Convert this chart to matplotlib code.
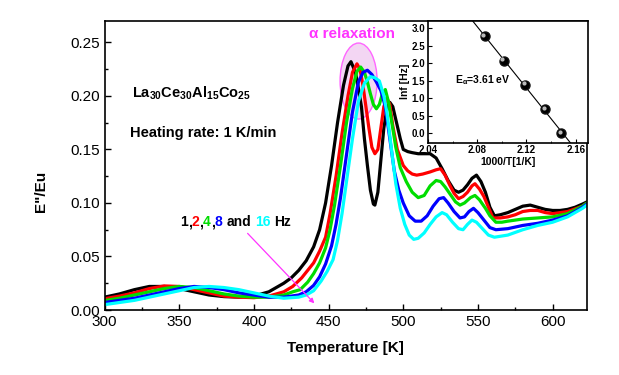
import numpy as np
import matplotlib
matplotlib.use("Agg")
import matplotlib.pyplot as plt
from matplotlib.patches import Ellipse
from matplotlib.ticker import MultipleLocator, FormatStrFormatter
from matplotlib.transforms import offset_copy

plt.rcParams['font.family'] = ['Liberation Sans', 'DejaVu Sans']
plt.rcParams['mathtext.fontset'] = 'custom'
plt.rcParams['mathtext.rm'] = 'Liberation Sans'
plt.rcParams['mathtext.bf'] = 'Liberation Sans:bold'
plt.rcParams['mathtext.it'] = 'Liberation Sans:bold'

# ---------------- data ----------------
T_1hz = [300, 310, 320, 330, 340, 350, 360, 370, 380, 390, 400, 410, 420, 425, 430, 435, 440, 444, 448,
         452, 456, 460, 463, 465, 468, 470, 472, 474, 476, 478, 480, 481, 483, 485, 487, 489, 491, 493,
         496, 498, 500, 503, 506, 510, 514, 518, 522, 526, 530, 534, 537, 540, 543, 546, 549, 552, 555,
         558, 561, 565, 570, 575, 580, 585, 590, 595, 600, 605, 610, 615, 620, 623]
E_1hz = [0.012, 0.015, 0.019, 0.022, 0.022, 0.020, 0.017, 0.014, 0.0125, 0.012, 0.013, 0.017, 0.025,
         0.030, 0.037, 0.046, 0.059, 0.075, 0.100, 0.135, 0.175, 0.210, 0.228, 0.232, 0.222, 0.207,
         0.190, 0.160, 0.135, 0.112, 0.099, 0.098, 0.110, 0.140, 0.170, 0.188, 0.194, 0.190, 0.172,
         0.160, 0.150, 0.148, 0.147, 0.146, 0.146, 0.146, 0.142, 0.132, 0.121, 0.112, 0.110, 0.112,
         0.117, 0.123, 0.126, 0.120, 0.110, 0.096, 0.088, 0.089, 0.091, 0.094, 0.097, 0.098, 0.096,
         0.094, 0.093, 0.093, 0.094, 0.096, 0.099, 0.101]

T_2hz = [300, 310, 320, 330, 340, 350, 360, 370, 380, 390, 400, 410, 420, 426, 432, 436, 440, 444, 448,
         451, 455, 459, 463, 466, 469, 471, 473, 475, 477, 479, 481, 483, 485, 487, 489, 491, 493, 496,
         500, 503, 506, 509, 513, 518, 522, 525, 528, 531, 534, 537, 540, 543, 546, 548, 551, 554, 557,
         560, 565, 570, 575, 580, 585, 590, 595, 600, 610, 620, 623]
E_2hz = [0.0105, 0.013, 0.016, 0.020, 0.0225, 0.022, 0.019, 0.016, 0.013, 0.012, 0.0115, 0.013, 0.017,
         0.022, 0.030, 0.037, 0.044, 0.055, 0.068, 0.090, 0.125, 0.165, 0.200, 0.222, 0.230, 0.225,
         0.210, 0.190, 0.170, 0.152, 0.146, 0.150, 0.170, 0.190, 0.198, 0.192, 0.172, 0.150, 0.135,
         0.130, 0.127, 0.126, 0.127, 0.129, 0.131, 0.132, 0.126, 0.117, 0.109, 0.104, 0.106, 0.110,
         0.116, 0.118, 0.113, 0.106, 0.096, 0.086, 0.086, 0.087, 0.089, 0.092, 0.093, 0.093, 0.091,
         0.090, 0.092, 0.097, 0.100]

T_4hz = [300, 310, 320, 330, 340, 350, 360, 370, 380, 390, 400, 410, 420, 426, 431, 436, 440, 444, 448,
         451, 454, 458, 462, 466, 469, 471.5, 474, 476, 478, 480, 482, 484, 486, 488, 490, 492, 495,
         498, 502, 506, 510, 514, 518, 522, 525, 528, 531, 535, 538, 541, 545, 548, 551, 555, 558, 562,
         566, 570, 580, 590, 600, 610, 620, 623]
E_4hz = [0.0088, 0.011, 0.014, 0.017, 0.020, 0.022, 0.021, 0.018, 0.015, 0.013, 0.012, 0.012, 0.014,
         0.017, 0.019, 0.026, 0.034, 0.044, 0.058, 0.075, 0.098, 0.135, 0.175, 0.207, 0.223, 0.227,
         0.222, 0.213, 0.202, 0.192, 0.188, 0.192, 0.202, 0.206, 0.195, 0.178, 0.152, 0.133, 0.120,
         0.110, 0.105, 0.107, 0.116, 0.121, 0.120, 0.115, 0.109, 0.101, 0.098, 0.100, 0.105, 0.107,
         0.103, 0.095, 0.088, 0.082, 0.082, 0.083, 0.085, 0.086, 0.087, 0.090, 0.097, 0.100]

T_8hz = [300, 310, 320, 330, 340, 350, 360, 370, 380, 390, 400, 410, 420, 430, 435, 440, 444, 448, 452,
         455, 458, 462, 466, 470, 473, 476, 479, 482, 485, 488, 491, 494, 497, 500, 504, 508, 512, 516,
         520, 524, 527, 530, 534, 538, 541, 544, 547, 550, 554, 558, 562, 570, 580, 590, 600, 610, 620,
         623]
E_8hz = [0.007, 0.009, 0.011, 0.014, 0.017, 0.020, 0.022, 0.021, 0.019, 0.016, 0.014, 0.012, 0.012,
         0.014, 0.017, 0.023, 0.031, 0.043, 0.060, 0.080, 0.105, 0.145, 0.185, 0.213, 0.222, 0.224,
         0.220, 0.213, 0.205, 0.190, 0.160, 0.130, 0.112, 0.100, 0.088, 0.083, 0.083, 0.088, 0.097,
         0.104, 0.105, 0.100, 0.092, 0.086, 0.087, 0.092, 0.095, 0.091, 0.084, 0.077, 0.075, 0.076,
         0.079, 0.081, 0.084, 0.088, 0.096, 0.099]

T_16hz = [300, 310, 320, 330, 340, 350, 360, 370, 380, 390, 400, 410, 420, 430, 435, 440, 445, 449, 453,
          456, 459, 462, 466, 470, 474, 478, 481, 484, 487, 489, 491, 493, 495, 498, 501, 504, 507, 510,
          514, 518, 522, 526, 529, 533, 537, 540, 543, 546, 549, 553, 557, 561, 570, 580, 590, 600, 610,
          620, 623]
E_16hz = [0.005, 0.007, 0.009, 0.012, 0.015, 0.018, 0.021, 0.022, 0.021, 0.019, 0.016, 0.013, 0.011,
          0.012, 0.014, 0.018, 0.027, 0.036, 0.047, 0.065, 0.090, 0.120, 0.160, 0.195, 0.212, 0.218,
          0.217, 0.214, 0.200, 0.185, 0.163, 0.140, 0.118, 0.095, 0.080, 0.070, 0.066, 0.067, 0.072,
          0.080, 0.087, 0.091, 0.089, 0.082, 0.076, 0.075, 0.080, 0.084, 0.082, 0.076, 0.070, 0.068,
          0.070, 0.075, 0.079, 0.082, 0.087, 0.095, 0.098]

series_T = [T_1hz, T_2hz, T_4hz, T_8hz, T_16hz]
series_E = [E_1hz, E_2hz, E_4hz, E_8hz, E_16hz]
series_colors = ['#000000', '#ff0000', '#00dd00', '#0000ff', '#00ffff']

# inset (Arrhenius plot)
inv_T = [2.086, 2.1015, 2.119, 2.135, 2.148]
ln_f = [2.77, 2.08, 1.39, 0.69, 0.0]

x_ticks = [300, 350, 400, 450, 500, 550, 600]
y_ticks = [0.00, 0.05, 0.10, 0.15, 0.20, 0.25]

# ---------------- figure ----------------
W, H = 619, 375
fig = plt.figure(figsize=(W / 100, H / 100), dpi=100)
ax = fig.add_axes([104.5 / W, 65 / H, 482.5 / W, 289 / H])

ell = Ellipse((470.1, 0.2139), 24.8, 0.071, facecolor='#f3d6f3', edgecolor='#ff66ff', lw=1.0, zorder=1)
ax.add_patch(ell)

for T, E, c in zip(series_T, series_E, series_colors):
    ax.plot(T, E, color=c, lw=2.3, solid_joinstyle='round', solid_capstyle='round', zorder=2)

ax.set_xlim(300, 623)
ax.set_ylim(0, 0.27)
ax.set_xticks(x_ticks)
ax.set_yticks(y_ticks)
ax.yaxis.set_major_formatter(FormatStrFormatter('%.2f'))
ax.xaxis.set_minor_locator(MultipleLocator(25))
ax.yaxis.set_minor_locator(MultipleLocator(0.025))
ax.tick_params(which='both', direction='in', top=False, right=False, labelsize=11, width=1.0)
ax.tick_params(which='major', length=4.5)
ax.tick_params(which='minor', length=2.5)
for s in ax.spines.values():
    s.set_linewidth(1.2)

ax.set_xlabel('Temperature [K]', fontsize=11, fontweight='bold', labelpad=9)
ax.set_ylabel('E"/Eu', fontsize=11, fontweight='bold')
ax.yaxis.set_label_coords(-0.118, 0.41)

ax.text(466, 0.2578, 'α relaxation', color='#ff33ff', fontsize=11, fontweight='bold',
        ha='center', va='center')
ax.text(318.2, 0.2025, r'$\mathbf{La_{30}Ce_{30}Al_{15}Co_{25}}$', fontsize=10.5,
        ha='left', va='center')
ax.text(317.2, 0.165, 'Heating rate: 1 K/min', fontsize=10.5, fontweight='bold',
        ha='left', va='center')

# multi-coloured frequency label
pieces = [('1', '#000000', 0), (',', '#000000', 0), ('2', '#ff0000', 0), (',', '#000000', 0),
          ('4', '#00dd00', 0), (',', '#000000', 0), ('8', '#0000ff', 0), ('and', '#000000', 2.8),
          ('16', '#00ffff', 2.8), ('Hz', '#000000', 2.8)]
t = ax.text(350.6, 0.0822, pieces[0][0], color=pieces[0][1], fontsize=10, fontweight='bold',
            ha='left', va='center')
for s, c, gap in pieces[1:]:
    t = ax.annotate(s, xy=(1, 0), xycoords=t, xytext=(gap, 0), textcoords='offset points',
                    color=c, fontsize=10, fontweight='bold', ha='left', va='bottom')

ax.annotate('', xy=(440.5, 0.0062), xytext=(395.8, 0.0716),
            arrowprops=dict(arrowstyle='-|>', color='#ff33ff', lw=0.9, mutation_scale=7,
                            shrinkA=0, shrinkB=0))

# ---------------- inset ----------------
ins = fig.add_axes([428 / W, (H - 142.7) / H, 160 / W, 122 / H])
ins.set_facecolor('white')
coef = np.polyfit(inv_T, ln_f, 1)
xl = np.array([2.06, 2.17])
ins.plot(xl, np.polyval(coef, xl), color='black', lw=0.8)
ins.plot(inv_T, ln_f, 'o', color='black', markersize=6.5, markeredgecolor='#111111', zorder=3)
hl = offset_copy(ins.transData, fig=fig, x=-1.0, y=1.0, units='points')
ins.plot(inv_T, ln_f, 'o', color='#bbbbbb', markersize=2, zorder=4, transform=hl)
ins.set_xlim(2.04, 2.17)
ins.set_ylim(-0.27, 3.22)
ins.set_xticks([2.04, 2.08, 2.12, 2.16])
ins.set_yticks([0.0, 0.5, 1.0, 1.5, 2.0, 2.5, 3.0])
ins.xaxis.set_major_formatter(FormatStrFormatter('%.2f'))
ins.yaxis.set_major_formatter(FormatStrFormatter('%.1f'))
ins.xaxis.set_minor_locator(MultipleLocator(0.02))
ins.tick_params(which='both', direction='in', top=False, right=False, labelsize=7, pad=2)
ins.tick_params(which='major', length=3)
ins.tick_params(which='minor', length=1.8)
for lab in ins.get_xticklabels() + ins.get_yticklabels():
    lab.set_fontweight('bold')
for s in ins.spines.values():
    s.set_linewidth(1.2)
ins.set_xlabel('1000/T[1/K]', fontsize=7.5, fontweight='bold', labelpad=1)
ins.set_ylabel('lnf [Hz]', fontsize=7.5, fontweight='bold', labelpad=1)
ins.text(2.0617, 1.52, r'E$_{\alpha}$=3.61 eV', fontsize=7.5, fontweight='bold',
         ha='left', va='center')

fig.savefig('out.png', dpi=100)
